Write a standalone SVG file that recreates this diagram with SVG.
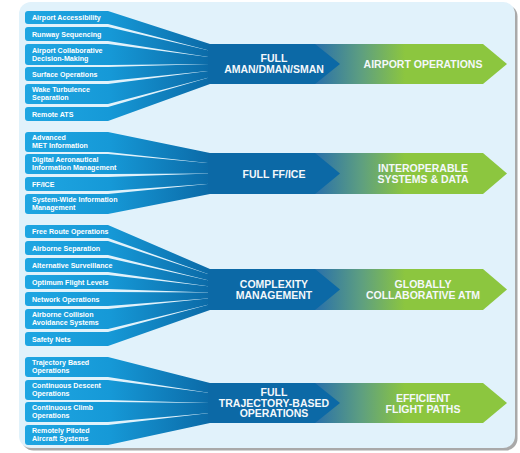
<svg xmlns="http://www.w3.org/2000/svg" width="520" height="453" viewBox="0 0 520 453">
<defs>
<linearGradient id="tabG" gradientUnits="userSpaceOnUse" x1="25" y1="0" x2="212" y2="0">
<stop offset="0" stop-color="#1fa6e2"/>
<stop offset="0.45" stop-color="#1699d7"/>
<stop offset="1" stop-color="#0b69a6"/>
</linearGradient>
<linearGradient id="outG" gradientUnits="userSpaceOnUse" x1="318" y1="0" x2="405" y2="0">
<stop offset="0" stop-color="#2c73a8"/>
<stop offset="0.5" stop-color="#5e9f80"/>
<stop offset="1" stop-color="#8cc63f"/>
</linearGradient>
<style>
.tab{fill:url(#tabG)}
.hub{fill:#0c69a6}
.out{fill:url(#outG)}
.tt{font-family:"Liberation Sans",Arial,sans-serif;font-weight:bold;font-size:7.1px;fill:#ffffff}
.ht{font-family:"Liberation Sans",Arial,sans-serif;font-weight:bold;font-size:10.5px;fill:#f4f8fb;text-anchor:middle}
</style>
</defs>
<rect x="21.5" y="4.5" width="496" height="446" rx="12" fill="#a9a9a9"/>
<rect x="19" y="2" width="496" height="446" rx="12" fill="#e1f2fb"/>

<g id="connectors"/>

<!-- Group 1 -->
<g id="t-airport-accessibility"><path class="tab" d="M28,11 H108 L210,44 V50.67 L108,24 H28 Q25,24 25,21 V14 Q25,11 28,11 Z"/><text class="tt" x="32" y="20.2">Airport Accessibility</text></g>
<g id="t-runway-sequencing"><path class="tab" d="M28,27 H108 L210,50.67 V57.33 L108,41 H28 Q25,41 25,38 V30 Q25,27 28,27 Z"/><text class="tt" x="32" y="36.5">Runway Sequencing</text></g>
<g id="t-acdm"><path class="tab" d="M28,44 H108 L210,57.33 V64 L108,65 H28 Q25,65 25,62 V47 Q25,44 28,44 Z"/><text class="tt" x="32" y="52.8">Airport Collaborative</text><text class="tt" x="32" y="60.8">Decision-Making</text></g>
<g id="t-surface-operations"><path class="tab" d="M28,67 H108 L210,64 V70.67 L108,81 H28 Q25,81 25,78 V70 Q25,67 28,67 Z"/><text class="tt" x="32" y="76.5">Surface Operations</text></g>
<g id="t-wake-turbulence"><path class="tab" d="M28,84 H108 L210,70.67 V77.33 L108,104 H28 Q25,104 25,101 V87 Q25,84 28,84 Z"/><text class="tt" x="32" y="92.3">Wake Turbulence</text><text class="tt" x="32" y="100.3">Separation</text></g>
<g id="t-remote-ats"><path class="tab" d="M28,107 H108 L210,77.33 V84 L108,121 H28 Q25,121 25,118 V110 Q25,107 28,107 Z"/><text class="tt" x="32" y="116.5">Remote ATS</text></g>
<g id="o-airport-operations"><path class="out" d="M315,44 H483 L507,64 L483,84 H315 Z"/><text class="ht" x="423" y="67.5">AIRPORT OPERATIONS</text></g>
<g id="h-aman"><path class="hub" d="M208,44 H315 L340,64 L315,84 H208 Z"/><text class="ht" x="274" y="62">FULL</text><text class="ht" x="274" y="73">AMAN/DMAN/SMAN</text></g>

<!-- Group 2 -->
<g id="t-advanced-met"><path class="tab" d="M28,132 H108 L210,153 V163.25 L108,152 H28 Q25,152 25,149 V135 Q25,132 28,132 Z"/><text class="tt" x="32" y="140.3">Advanced</text><text class="tt" x="32" y="148.3">MET Information</text></g>
<g id="t-daim"><path class="tab" d="M28,154 H108 L210,163.25 V173.5 L108,174 H28 Q25,174 25,171 V157 Q25,154 28,154 Z"/><text class="tt" x="32" y="162.3">Digital Aeronautical</text><text class="tt" x="32" y="170.3">Information Management</text></g>
<g id="t-ffice"><path class="tab" d="M28,177 H108 L210,173.5 V183.75 L108,191 H28 Q25,191 25,188 V180 Q25,177 28,177 Z"/><text class="tt" x="32" y="186.5">FF/ICE</text></g>
<g id="t-swim"><path class="tab" d="M28,194 H108 L210,183.75 V194 L108,214 H28 Q25,214 25,211 V197 Q25,194 28,194 Z"/><text class="tt" x="32" y="202.3">System-Wide Information</text><text class="tt" x="32" y="210.3">Management</text></g>
<g id="o-interoperable"><path class="out" d="M315,153 H483 L507,173.5 L483,194 H315 Z"/><text class="ht" x="423" y="172">INTEROPERABLE</text><text class="ht" x="423" y="183">SYSTEMS &amp; DATA</text></g>
<g id="h-ffice"><path class="hub" d="M208,153 H315 L340,173.5 L315,194 H208 Z"/><text class="ht" x="274" y="177.5">FULL FF/ICE</text></g>

<!-- Group 3 -->
<g id="t-free-route"><path class="tab" d="M28,225 H108 L210,269 V274.86 L108,238 H28 Q25,238 25,235 V228 Q25,225 28,225 Z"/><text class="tt" x="32" y="234">Free Route Operations</text></g>
<g id="t-airborne-separation"><path class="tab" d="M28,241 H108 L210,274.86 V280.71 L108,255 H28 Q25,255 25,252 V244 Q25,241 28,241 Z"/><text class="tt" x="32" y="250.5">Airborne Separation</text></g>
<g id="t-alt-surveillance"><path class="tab" d="M28,258 H108 L210,280.71 V286.57 L108,272 H28 Q25,272 25,269 V261 Q25,258 28,258 Z"/><text class="tt" x="32" y="267.5">Alternative Surveillance</text></g>
<g id="t-optimum-flight-levels"><path class="tab" d="M28,275 H108 L210,286.57 V292.43 L108,289 H28 Q25,289 25,286 V278 Q25,275 28,275 Z"/><text class="tt" x="32" y="284.5">Optimum Flight Levels</text></g>
<g id="t-network-operations"><path class="tab" d="M28,292 H108 L210,292.43 V298.29 L108,306 H28 Q25,306 25,303 V295 Q25,292 28,292 Z"/><text class="tt" x="32" y="301.5">Network Operations</text></g>
<g id="t-acas"><path class="tab" d="M28,309 H108 L210,298.29 V304.14 L108,329 H28 Q25,329 25,326 V312 Q25,309 28,309 Z"/><text class="tt" x="32" y="317.3">Airborne Collision</text><text class="tt" x="32" y="325.3">Avoidance Systems</text></g>
<g id="t-safety-nets"><path class="tab" d="M28,332 H108 L210,304.14 V310 L108,346 H28 Q25,346 25,343 V335 Q25,332 28,332 Z"/><text class="tt" x="32" y="341.5">Safety Nets</text></g>
<g id="o-global-atm"><path class="out" d="M315,269 H483 L507,289.5 L483,310 H315 Z"/><text class="ht" x="423" y="288">GLOBALLY</text><text class="ht" x="423" y="298.5">COLLABORATIVE ATM</text></g>
<g id="h-complexity"><path class="hub" d="M208,269 H315 L340,289.5 L315,310 H208 Z"/><text class="ht" x="274" y="288">COMPLEXITY</text><text class="ht" x="274" y="298.5">MANAGEMENT</text></g>

<!-- Group 4 -->
<g id="t-tbo"><path class="tab" d="M28,357 H108 L210,383 V393 L108,377 H28 Q25,377 25,374 V360 Q25,357 28,357 Z"/><text class="tt" x="32" y="365.3">Trajectory Based</text><text class="tt" x="32" y="373.3">Operations</text></g>
<g id="t-cdo"><path class="tab" d="M28,380 H108 L210,393 V403 L108,400 H28 Q25,400 25,397 V383 Q25,380 28,380 Z"/><text class="tt" x="32" y="388.3">Continuous Descent</text><text class="tt" x="32" y="396.3">Operations</text></g>
<g id="t-cco"><path class="tab" d="M28,402 H108 L210,403 V413 L108,422 H28 Q25,422 25,419 V405 Q25,402 28,402 Z"/><text class="tt" x="32" y="410.3">Continuous Climb</text><text class="tt" x="32" y="418.3">Operations</text></g>
<g id="t-rpas"><path class="tab" d="M28,425 H108 L210,413 V423 L108,445 H28 Q25,445 25,442 V428 Q25,425 28,425 Z"/><text class="tt" x="32" y="433.3">Remotely Piloted</text><text class="tt" x="32" y="441.3">Aircraft Systems</text></g>
<g id="o-efficient"><path class="out" d="M315,383 H483 L507,403 L483,423 H315 Z"/><text class="ht" x="423" y="402">EFFICIENT</text><text class="ht" x="423" y="412.5">FLIGHT PATHS</text></g>
<g id="h-tbo"><path class="hub" d="M208,383 H315 L340,403 L315,423 H208 Z"/><text class="ht" x="274" y="396">FULL</text><text class="ht" x="274" y="406.5">TRAJECTORY-BASED</text><text class="ht" x="274" y="417">OPERATIONS</text></g>
</svg>
